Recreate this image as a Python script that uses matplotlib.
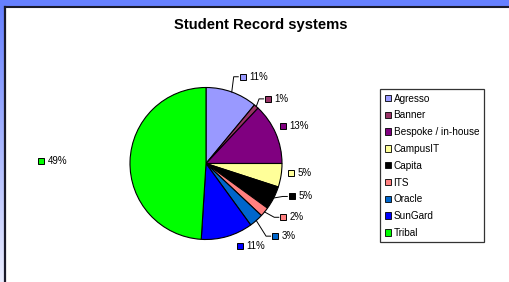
import matplotlib
matplotlib.use("Agg")
import matplotlib.pyplot as plt
from matplotlib.patches import Patch, Rectangle
from matplotlib.lines import Line2D
import numpy as np

plt.rcParams['font.family'] = ['Liberation Sans', 'DejaVu Sans']

systems = ['Agresso', 'Banner', 'Bespoke / in-house', 'CampusIT', 'Capita',
           'ITS', 'Oracle', 'SunGard', 'Tribal']
shares = [11, 1, 13, 5, 5, 2, 3, 11, 49]
colors = ['#9999FF', '#993366', '#800080', '#FFFF99', '#000000',
          '#FF8080', '#0066CC', '#0000FF', '#00FF00']

# label placement (angle shift from wedge middle in deg, distance in radii, leader line?)
lab_shift = [3.2, 2.5, -2.6, -2.6, -6, -4.8, -2.2, -6.2, -0.9]
lab_dist = [1.24, 1.18, 1.13, 1.125, 1.21, 1.24, 1.32, 1.17, 2.17]
leader = [True, True, False, False, True, True, True, False, False]

W, H = 509, 282
fig = plt.figure(figsize=(W / 100, H / 100), dpi=100)
fig.patch.set_facecolor('#6680FF')

# left strip gradient of the slide background
gax = fig.add_axes([0, 0, 6 / W, 1 - 6 / H])
grad = np.linspace(0, 1, 100).reshape(-1, 1)
top = np.array([0x66, 0x80, 0xFF]) / 255
bot = np.array([0xEC, 0xEE, 0xFF]) / 255
img = top + (bot - top) * grad[:, :, None]
gax.imshow(img, aspect='auto', extent=[0, 1, 0, 1])
gax.axis('off')

# white chart panel with dark top/left edges
fig.patches.append(Rectangle((5 / W, 0), 1, 1 - 7 / H, transform=fig.transFigure,
                             facecolor='white', edgecolor='none', zorder=1))
fig.lines.append(Line2D([5 / W, 1], [1 - 6.5 / H, 1 - 6.5 / H], transform=fig.transFigure,
                        color='#1a1a2a', lw=1.5, zorder=2))
fig.lines.append(Line2D([5.3 / W, 5.3 / W], [0, 1 - 6.5 / H], transform=fig.transFigure,
                        color='#1a1a2a', lw=1.6, zorder=2))

# pie axes spanning the figure; 76 px per unit, pie centre at (206, 163.5) px
ppu = 76.0
cx, cy = 206, 163.5
ax = fig.add_axes([0, 0, 1, 1], zorder=3)
ax.axis('off')
ax.patch.set_alpha(0)

wedges, _ = ax.pie(shares, colors=colors, startangle=90, counterclock=False,
                   radius=1.0, wedgeprops=dict(edgecolor='black', linewidth=0.8))
ax.set_xlim(-cx / ppu, (W - cx) / ppu)
ax.set_ylim(-(H - cy) / ppu, cy / ppu)
ax.set_aspect('auto')

total = float(sum(shares))
cum = 0.0
for i, v in enumerate(shares):
    mid = (cum + v / 2) / total * 360
    cum += v
    a = np.deg2rad(mid + lab_shift[i])
    sx, sy = lab_dist[i] * np.sin(a), lab_dist[i] * np.cos(a)
    if leader[i]:
        am = np.deg2rad(mid)
        ex, ey = np.sin(am), np.cos(am)
        ax.plot([ex, sx - 0.12, sx - 0.06], [ey, sy, sy], color='black', lw=0.7)
    ax.plot(sx, sy, marker='s', ms=3.8, mfc=colors[i], mec='black', mew=0.7)
    ax.text(sx + 0.085, sy, '%d%%' % v, fontsize=7, va='center', ha='left')

fig.text(260.5 / W, 1 - 25 / H, 'Student Record systems', fontsize=10.6,
         fontweight='bold', ha='center', va='center', zorder=4)

handles = [Patch(facecolor=c, edgecolor='black', linewidth=0.6) for c in colors]
leg = fig.legend(handles, systems, loc='upper left',
                 bbox_to_anchor=(380 / W, 1 - 89 / H), fontsize=7.2,
                 frameon=True, fancybox=False, borderpad=0.45,
                 handlelength=0.6, handleheight=0.6, handletextpad=0.3,
                 labelspacing=0.68, borderaxespad=0)
leg.get_frame().set_edgecolor('black')
leg.get_frame().set_linewidth(0.9)
leg.set_zorder(5)

fig.savefig('out.png', dpi=100)
